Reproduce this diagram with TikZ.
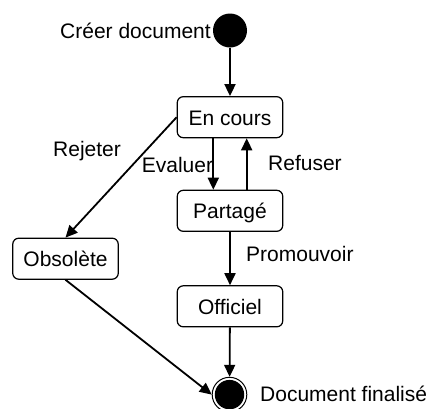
\documentclass[tikz,border=0pt]{standalone}
\usepackage{fontspec}
\setmainfont{Liberation Sans}
\usetikzlibrary{arrows.meta}
\begin{document}
\begin{tikzpicture}[x=1pt,y=-1pt, font=\fontsize{21}{25}\selectfont,
  state/.style={draw, line width=1.2pt, rounded corners=6pt, minimum width=105.5pt,
    minimum height=41pt, inner sep=0pt, text height=16pt, text depth=0pt},
  trans/.style={line width=1.8pt, -{Triangle[length=12pt,width=11pt]}},
  lbl/.style={anchor=base west, inner sep=0pt}]
\useasboundingbox (0,0) rectangle (429,408);
% initial state
\node[circle, fill, minimum size=34pt, inner sep=0pt] (init) at (230,30.5) {};
\node[anchor=base east, inner sep=0pt] (creer) at (211,38) {Créer document};
% states
\node[state] (encours) at (230,117.2) {En cours};
\node[state] (partage) at (230,210.8) {Partagé};
\node[state] (officiel) at (230,306.3) {Officiel};
\node[state] (obsolete) at (65.5,258.7) {Obsolète};
% final state
\node[circle, fill, minimum size=29.4pt, inner sep=0pt] (finalin) at (229.5,394.6) {};
\node[circle, draw, line width=1pt, minimum size=34.6pt, inner sep=0pt] (final) at (finalin) {};
\node[lbl] (docfin) at (260,401.7) {Document finalisé};
% transitions
\draw[trans] (init) -- (encours);
\draw[trans] (encours.west) -- (obsolete.north);
\draw[trans] ([xshift=-16.7pt]encours.south) -- ([xshift=-16.7pt]partage.north);
\draw[trans] ([xshift=16.7pt]partage.north) -- ([xshift=16.7pt]encours.south);
\draw[trans] (partage) -- (officiel);
\draw[trans] (officiel) -- (final);
\draw[trans] (obsolete.south) -- (final.west);
% labels
\node[lbl] (rejeter) at (53,156.7) {Rejeter};
\node[lbl] (evaluer) at (141.7,172.7) {Evaluer};
\node[lbl] (refuser) at (268,170.7) {Refuser};
\node[lbl] (promouvoir) at (246,261.7) {Promouvoir};
\end{tikzpicture}
\end{document}
